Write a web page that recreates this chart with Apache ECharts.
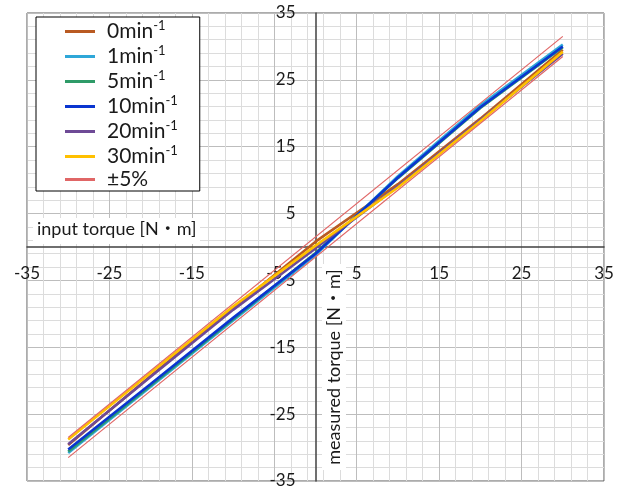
<!DOCTYPE html>
<html><head><meta charset="utf-8">
<script src="https://cdn.jsdelivr.net/npm/echarts@6/dist/echarts.min.js"></script>
<style>html,body{margin:0;padding:0;background:#fff}#c{width:625px;height:490px}</style>
</head><body><div id="c"></div>
<script>
// ---- data ----
const inputTorque = [-30, -20, -10, 0, 10, 20, 30];
const seriesNames = ['0min', '1min', '5min', '10min', '20min', '30min'];
const speed0  = [-29.6, -19.3, -9.2, 0.8, 9.4, 19.2, 29.5];
const speed1  = [-30.8, -20.9, -11.0, -1.2, 10.6, 21.2, 30.3];
const speed5  = [-30.6, -20.7, -10.8, -0.9, 10.3, 20.8, 29.9];
const speed10 = [-30.3, -20.5, -10.6, -1.0, 10.4, 20.9, 30.0];
const speed20 = [-29.5, -19.4, -9.4, -0.2, 9.1, 19.0, 28.9];
const speed30 = [-28.8, -18.8, -8.9, 0.2, 8.9, 18.8, 29.2];
const bandInput = [-30, 30];
const bandUpper = [-28.5, 31.5];
const bandLower = [-31.5, 28.5];
const bandName = '±5%';
const axisMin = -35, axisMax = 35, axisStep = 10;

const colors = ['#B95A22', '#2EA7D8', '#2E9B68', '#0A35D0', '#6E4A96', '#FFC000'];
const bandColor = '#E06666';
const allSpeeds = [speed0, speed1, speed5, speed10, speed20, speed30];

const FONT = 'Lato, "Noto Sans CJK JP", sans-serif';

// layout of the plot area
const G = { left: 27, right: 21, top: 13, bottom: 9 };
const W = 625, H = 490;
const plotW = W - G.left - G.right, plotH = H - G.top - G.bottom;
const yAxisOffset = -plotW * (0 - axisMin) / (axisMax - axisMin);
const xAxisOffset = -plotH * (0 - axisMin) / (axisMax - axisMin);

const series = allSpeeds.map((vals, i) => ({
  name: seriesNames[i],
  type: 'line',
  symbol: 'none',
  data: inputTorque.map((x, j) => [x, vals[j]]),
  lineStyle: { color: colors[i], width: 2.6 },
  itemStyle: { color: colors[i] },
  z: 3
}));
[bandUpper, bandLower].forEach(vals => {
  series.push({
    name: bandName,
    type: 'line',
    symbol: 'none',
    data: bandInput.map((x, j) => [x, vals[j]]),
    lineStyle: { color: bandColor, width: 1.2 },
    itemStyle: { color: bandColor },
    z: 4
  });
});

const axisCommon = {
  type: 'value',
  min: axisMin, max: axisMax, interval: axisStep,
  axisLine: { onZero: false, lineStyle: { color: '#404040', width: 1.5 } },
  axisTick: { show: false },
  minorTick: { show: false, splitNumber: 5 },
  splitLine: { show: true, lineStyle: { color: '#BDBDBD', width: 1 } },
  minorSplitLine: { show: true, lineStyle: { color: '#DCDCDC', width: 1 } },
};

const chart = echarts.init(document.getElementById('c'));
chart.setOption({
  backgroundColor: '#fff',
  animation: false,
  grid: Object.assign({ show: true, borderColor: '#595959', borderWidth: 1, backgroundColor: 'transparent', containLabel: false, outerBoundsMode: 'none' }, G),
  xAxis: Object.assign({}, axisCommon, {
    position: 'bottom', offset: xAxisOffset,
    axisLabel: { margin: 18, fontSize: 17, color: '#1a1a1a', fontFamily: FONT, showMinLabel: true, showMaxLabel: true, hideOverlap: false }
  }),
  yAxis: Object.assign({}, axisCommon, {
    position: 'left', offset: yAxisOffset,
    axisLabel: { margin: 20, fontSize: 17, color: '#1a1a1a', fontFamily: FONT, showMinLabel: true, showMaxLabel: true, hideOverlap: false }
  }),
  legend: {
    orient: 'vertical',
    left: 36, top: 17,
    padding: [2, 22, 1, 29],
    itemGap: 0,
    itemWidth: 30, itemHeight: 3,
    icon: 'rect',
    backgroundColor: '#fff',
    borderColor: '#000', borderWidth: 1,
    data: seriesNames.concat([bandName]),
    formatter: function (name) {
      if (name === bandName) return '{a|' + name + '}';
      return '{a|' + name + '}{s|-1}';
    },
    textStyle: {
      fontFamily: FONT,
      rich: {
        a: { fontSize: 21, lineHeight: 27.5, color: '#1a1a1a', fontFamily: FONT, padding: [0, 0, 0, 7] },
        s: { fontSize: 13, lineHeight: 13, color: '#1a1a1a', fontFamily: FONT, padding: [0, 0, 12, 0] }
      }
    }
  },
  graphic: [
    { type: 'rect', left: 33, top: 218, shape: { width: 167, height: 26 }, style: { fill: '#fff' }, z: 10 },
    { type: 'text', left: 37, top: 220, style: { text: 'input torque [N・m]', font: '18px ' + FONT, fill: '#1a1a1a' }, z: 11 },
    { type: 'rect', left: 322, top: 264, shape: { width: 24, height: 206 }, style: { fill: '#fff' }, z: 10 },
    { type: 'text', x: 334, y: 367, rotation: Math.PI / 2, style: { text: 'measured torque [N・m]', font: '18px ' + FONT, fill: '#1a1a1a', align: 'center', verticalAlign: 'middle' }, z: 11 }
  ],
  series: series
});
</script>
</body></html>
